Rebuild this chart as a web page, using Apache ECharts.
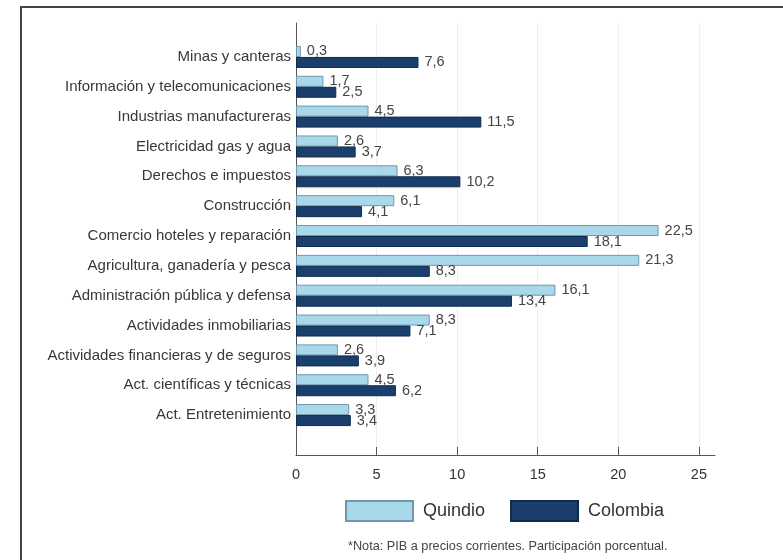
<!DOCTYPE html>
<html>
<head>
<meta charset="utf-8">
<script src="https://cdn.jsdelivr.net/npm/echarts@6/dist/echarts.min.js"></script>
<style>html,body{margin:0;padding:0;background:#fff}#c{width:783px;height:560px}</style>
</head>
<body>
<div id="c"></div>
<script>
const categories = [
  'Minas y canteras',
  'Información y telecomunicaciones',
  'Industrias manufactureras',
  'Electricidad gas y agua',
  'Derechos e impuestos',
  'Construcción',
  'Comercio hoteles y reparación',
  'Agricultura, ganadería y pesca',
  'Administración pública y defensa',
  'Actividades inmobiliarias',
  'Actividades financieras y de seguros',
  'Act. científicas y técnicas',
  'Act. Entretenimiento'
];
const quindio = [0.3, 1.7, 4.5, 2.6, 6.3, 6.1, 22.5, 21.3, 16.1, 8.3, 2.6, 4.5, 3.3];
const colombia = [7.6, 2.5, 11.5, 3.7, 10.2, 4.1, 18.1, 8.3, 13.4, 7.1, 3.9, 6.2, 3.4];
const xTicks = [0, 5, 10, 15, 20, 25];
const noteText = '*Nota: PIB a precios corrientes. Participación porcentual.';

const FONT = 'Liberation Sans, Arial, sans-serif';
const fmt = p => String(p.value).replace('.', ',');

const chart = echarts.init(document.getElementById('c'), null, {renderer: 'canvas'});
chart.setOption({
  animation: false,
  backgroundColor: '#fff',
  textStyle: {fontFamily: FONT},
  title: {
    text: noteText,
    left: 343, top: 535,
    textStyle: {fontSize: 12.7, fontWeight: 'normal', color: '#444', fontFamily: FONT}
  },
  legend: {
    left: 340, top: 495,
    itemWidth: 67, itemHeight: 20, itemGap: 25,
    icon: 'rect',
    textStyle: {fontSize: 18, color: '#333', fontFamily: FONT, padding: [0, 0, 0, 5]},
    data: ['Quindio', 'Colombia']
  },
  graphic: [{
    type: 'rect', silent: true, z: -10,
    shape: {x: 21, y: 7, width: 900, height: 700},
    style: {fill: 'none', stroke: '#444', lineWidth: 2}
  }],
  grid: [
    {left: 296, right: 68, top: 42, bottom: 130},
    {left: 296, right: 68, top: 23, bottom: 105}
  ],
  xAxis: [
    {gridIndex: 0, type: 'value', min: 0, max: 26, show: false},
    {
      gridIndex: 1, type: 'value', min: 0, max: 26, interval: 5,
      axisLine: {show: true, lineStyle: {color: '#555', width: 1}},
      axisTick: {show: true, inside: true, length: 8, lineStyle: {color: '#555'}, customValues: xTicks},
      axisLabel: {fontSize: 14.5, color: '#333', margin: 12, fontFamily: FONT, customValues: xTicks},
      splitLine: {show: true, lineStyle: {color: '#eeeeee', width: 1}}
    }
  ],
  yAxis: [
    {
      gridIndex: 0, type: 'category', data: categories, inverse: true,
      axisLine: {show: false}, axisTick: {show: false},
      axisLabel: {fontSize: 15, color: '#383838', margin: 5, fontFamily: FONT, padding: [4, 0, 0, 0]}
    },
    {
      gridIndex: 1, type: 'value', min: 0, max: 1,
      axisLine: {show: true, lineStyle: {color: '#555', width: 1}},
      axisTick: {show: false}, axisLabel: {show: false}, splitLine: {show: false}
    }
  ],
  series: [
    {
      name: 'Quindio', type: 'bar', xAxisIndex: 0, yAxisIndex: 0,
      data: quindio, barWidth: 11, barGap: '0%',
      itemStyle: {color: '#a9d8eb', borderColor: '#6e98b0', borderWidth: 1},
      label: {show: true, position: 'right', distance: 6, formatter: fmt, fontSize: 14.5, color: '#444', fontFamily: FONT}
    },
    {
      name: 'Colombia', type: 'bar', xAxisIndex: 0, yAxisIndex: 0,
      data: colombia, barWidth: 11, barGap: '0%',
      itemStyle: {color: '#1b3f6d', borderColor: '#102a4c', borderWidth: 1},
      label: {show: true, position: 'right', distance: 6, formatter: fmt, fontSize: 14.5, color: '#444', fontFamily: FONT}
    }
  ]
});
</script>
</body>
</html>
